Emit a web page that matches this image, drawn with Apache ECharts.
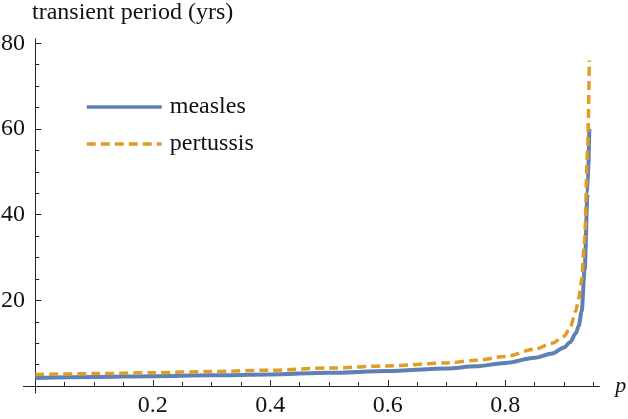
<!DOCTYPE html>
<html>
<head>
<meta charset="utf-8">
<script src="https://cdn.jsdelivr.net/npm/echarts@6/dist/echarts.min.js"></script>
<style>
    html, body { margin: 0; padding: 0; background: #fff; }
    #chart { width: 628px; height: 419px; }
</style>
</head>
<body>
<div id="chart"></div>
<script>
// values
const pGrid = [0, 0.1, 0.2, 0.3, 0.4, 0.5, 0.6, 0.7, 0.75, 0.8, 0.85, 0.88, 0.9, 0.91, 0.92, 0.925, 0.93, 0.935, 0.94, 0.943]
const measles = [1.9, 2.1, 2.3, 2.5, 2.7, 3.1, 3.5, 4.1, 4.6, 5.4, 6.6, 7.6, 9.0, 10.2, 12.3, 14.0, 17.5, 27, 45, 60]
const pertussis = [2.7, 2.9, 3.1, 3.4, 3.7, 4.2, 4.7, 5.4, 6.0, 6.9, 8.6, 10.0, 11.6, 13.5, 17.5, 20.5, 25, 34, 55, 76]
const xLabels = [0.2, 0.4, 0.6, 0.8]
const yLabels = [20, 40, 60, 80]
const xMinor = [0.05, 0.1, 0.15, 0.25, 0.3, 0.35, 0.45, 0.5, 0.55, 0.65, 0.7, 0.75, 0.85, 0.9, 0.95]
const yMinor = [5, 10, 15, 25, 30, 35, 45, 50, 55, 65, 70, 75]

const FONT = '"Liberation Serif", "DejaVu Serif", serif'
const AXIS_COLOR = '#222'

const chart = echarts.init(document.getElementById('chart'))

const pairs = (ys) => pGrid.map((p, i) => [p, ys[i]])

// common axis bits
const xRange = { type: 'value', min: -0.02, max: 0.96 }
const yRange = { type: 'value', min: -1.6, max: 81 }

const option = {
    animation: false,
    backgroundColor: '#fff',
    grid: {
        left: 23.5,
        width: 575.8,
        top: 39,
        height: 353.9,
        containLabel: false,
        outerBoundsMode: 'none',
    },
    title: {
        text: 'transient period (yrs)',
        left: 27,
        top: -4,
        textStyle: {
            fontFamily: FONT,
            fontWeight: 'normal',
            fontSize: 24,
            color: '#111',
        },
    },
    legend: {
        orient: 'vertical',
        left: 85,
        top: 95,
        padding: 0,
        itemWidth: 75,
        itemHeight: 24,
        itemGap: 13,
        data: ['measles', 'pertussis'],
        itemStyle: { opacity: 0 },
        lineStyle: { width: 3.5 },
        textStyle: {
            fontFamily: FONT,
            fontSize: 24,
            lineHeight: 24,
            color: '#111',
            padding: [0, 0, 0, 3],
        },
    },
    xAxis: [
        {
            ...xRange,
            name: 'p',
            nameLocation: 'end',
            nameGap: 16,
            nameTextStyle: {
                fontFamily: FONT,
                fontStyle: 'italic',
                fontSize: 22,
                color: '#111',
                verticalAlign: 'middle',
                padding: [0, 0, 4, 0],
            },
            axisLine: { onZero: true, lineStyle: { color: AXIS_COLOR, width: 1 } },
            axisTick: { inside: true, length: 4, customValues: xMinor, lineStyle: { color: AXIS_COLOR } },
            axisLabel: {
                customValues: xLabels,
                fontFamily: FONT,
                fontSize: 24,
                color: '#111',
                margin: 1,
                formatter: (v) => v.toFixed(1),
            },
            splitLine: { show: false },
        },
        {
            // major ticks, longer
            ...xRange,
            position: 'bottom',
            axisLine: { onZero: true, onZeroAxisIndex: 0, lineStyle: { color: AXIS_COLOR, width: 1 } },
            axisTick: { inside: true, length: 6, customValues: xLabels, lineStyle: { color: AXIS_COLOR } },
            axisLabel: { show: false },
            splitLine: { show: false },
        },
    ],
    yAxis: [
        {
            ...yRange,
            axisLine: { show: true, onZero: true, lineStyle: { color: AXIS_COLOR, width: 1 } },
            axisTick: { show: true, inside: true, length: 4, customValues: yMinor, lineStyle: { color: AXIS_COLOR } },
            axisLabel: {
                customValues: yLabels,
                fontFamily: FONT,
                fontSize: 24,
                color: '#111',
                margin: -1.5,
            },
            splitLine: { show: false },
        },
        {
            ...yRange,
            position: 'left',
            axisLine: { show: true, onZero: true, onZeroAxisIndex: 0, lineStyle: { color: AXIS_COLOR, width: 1 } },
            axisTick: { show: true, inside: true, length: 6, customValues: yLabels, lineStyle: { color: AXIS_COLOR } },
            axisLabel: { show: false },
            splitLine: { show: false },
        },
    ],
    series: [
        {
            name: 'measles',
            type: 'line',
            xAxisIndex: 0,
            yAxisIndex: 0,
            data: pairs(measles),
            symbol: 'none',
            smooth: 0.3,
            smoothMonotone: 'x',
            color: '#5E81B5',
            lineStyle: { width: 4, color: '#5E81B5', cap: 'butt' },
            z: 2,
        },
        {
            name: 'pertussis',
            type: 'line',
            xAxisIndex: 0,
            yAxisIndex: 0,
            data: pairs(pertussis),
            symbol: 'none',
            smooth: 0.3,
            smoothMonotone: 'x',
            color: '#E19C24',
            lineStyle: { width: 3.5, color: '#E19C24', type: [9, 5], cap: 'butt' },
            z: 3,
        },
    ],
}

chart.setOption(option)
window.addEventListener('resize', () => {
    chart.resize()
})
</script>
</body>
</html>
